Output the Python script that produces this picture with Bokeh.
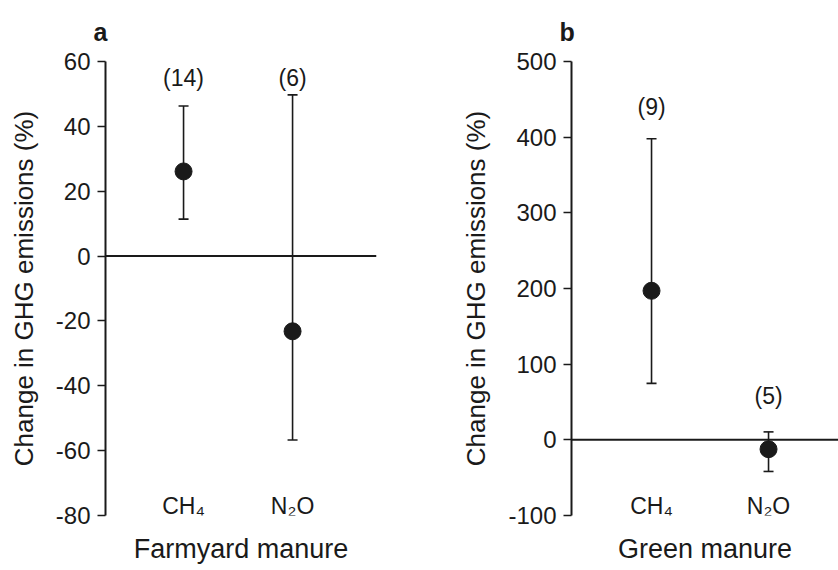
from bokeh.plotting import figure
from bokeh.models import (ColumnDataSource, Whisker, TeeHead, Span, Range1d,
                          FixedTicker)
from bokeh.layouts import row
from bokeh.core.properties import value
from bokeh.embed import file_html
from bokeh.resources import INLINE

# ---------------- data ----------------
gases = ["CH\u2084", "N\u2082O"]

fym_mean = [26.1, -23.2]
fym_upper = [46.3, 49.7]
fym_lower = [11.4, -56.7]
fym_n = ["(14)", "(6)"]
fym_n_y = [55, 55]
fym_yticks = [60, 40, 20, 0, -20, -40, -60, -80]
fym_ytick_labels = ["60", "40", "20", "0", "-20", "-40", "-60", "-80"]

gm_mean = [197, -12.4]
gm_upper = [398, 10.5]
gm_lower = [74.6, -41.8]
gm_n = ["(9)", "(5)"]
gm_n_y = [440, 58]
gm_yticks = [500, 400, 300, 200, 100, 0, -100]
gm_ytick_labels = ["500", "400", "300", "200", "100", "0", "-100"]

INK = "#1a1a1a"
FONT = "Liberation Sans"


def panel(letter, group, mean, upper, lower, n, n_y, yticks, ylabels,
          width, xr, border_left, border_right):
    ymin, ymax = min(yticks), max(yticks)
    p = figure(width=width, height=570, output_backend="svg",
               toolbar_location=None, x_range=Range1d(*xr),
               y_range=Range1d(ymin, ymax),
               min_border_left=border_left, min_border_right=border_right,
               min_border_top=60, min_border_bottom=55)
    p.outline_line_color = None
    p.grid.visible = False
    p.background_fill_color = "white"
    p.border_fill_color = "white"

    p.title.text = letter
    p.title.text_font = FONT
    p.title.text_font_size = "25px"
    p.title.text_font_style = "bold"
    p.title.text_color = INK
    p.title.text_line_height = 1.0
    p.title.align = "left"
    p.title.offset = -12
    p.title.standoff = 31

    xs = [i + 1 for i in range(len(gases))]
    src = ColumnDataSource(dict(x=xs, mean=mean, upper=upper, lower=lower,
                                n=n, n_y=n_y, gas=gases,
                                base_y=[ymin] * len(xs)))

    p.add_layout(Span(location=0, dimension="width", line_color=INK,
                      line_width=2))
    w = Whisker(source=src, base="x", upper="upper", lower="lower",
                dimension="height", line_color=INK, line_width=1.6)
    w.upper_head = TeeHead(size=10, line_color=INK, line_width=1.6)
    w.lower_head = TeeHead(size=10, line_color=INK, line_width=1.6)
    p.add_layout(w)
    p.scatter("x", "mean", source=src, size=17, color=INK)

    p.text("x", "n_y", text="n", source=src, text_font=value(FONT),
           text_font_size="23px", text_color=INK, text_align="center",
           text_baseline="middle")
    p.text("x", "base_y", text="gas", source=src, text_font=value(FONT),
           text_font_size="23px", text_color=INK, text_align="center",
           text_baseline="middle", y_offset=-10)

    ya = p.yaxis[0]
    ya.ticker = FixedTicker(ticks=yticks)
    ya.major_label_overrides = {t: l for t, l in zip(yticks, ylabels)}
    ya.axis_line_width = 2
    ya.axis_line_color = INK
    ya.major_tick_line_color = INK
    ya.major_tick_line_width = 1.5
    ya.major_tick_out = 8
    ya.major_tick_in = 0
    ya.minor_tick_line_color = None
    ya.major_label_text_font = FONT
    ya.major_label_text_font_size = "24px"
    ya.major_label_text_color = INK
    ya.major_label_standoff = 7
    ya.axis_label = "Change in GHG emissions (%)"
    ya.axis_label_text_font = FONT
    ya.axis_label_text_font_size = "26px"
    ya.axis_label_text_font_style = "normal"
    ya.axis_label_text_color = INK
    ya.axis_label_standoff = 14

    xa = p.xaxis[0]
    xa.ticker = FixedTicker(ticks=[])
    xa.axis_line_color = None
    xa.major_tick_line_color = None
    xa.minor_tick_line_color = None
    xa.major_label_text_font_size = "0px"
    xa.axis_label = group
    xa.axis_label_text_font = FONT
    xa.axis_label_text_font_size = "27px"
    xa.axis_label_text_font_style = "normal"
    xa.axis_label_text_color = INK
    xa.axis_label_standoff = 18
    return p


pa = panel("a", "Farmyard manure", fym_mean, fym_upper, fym_lower, fym_n,
           fym_n_y, fym_yticks, fym_ytick_labels, 420, (0.284, 2.77), 105, 44)
pb = panel("b", "Green manure", gm_mean, gm_upper, gm_lower, gm_n,
           gm_n_y, gm_yticks, gm_ytick_labels, 418, (0.316, 2.598), 151, 0)

layout = row(pa, pb)
open("out.html", "w").write(file_html(layout, INLINE))
